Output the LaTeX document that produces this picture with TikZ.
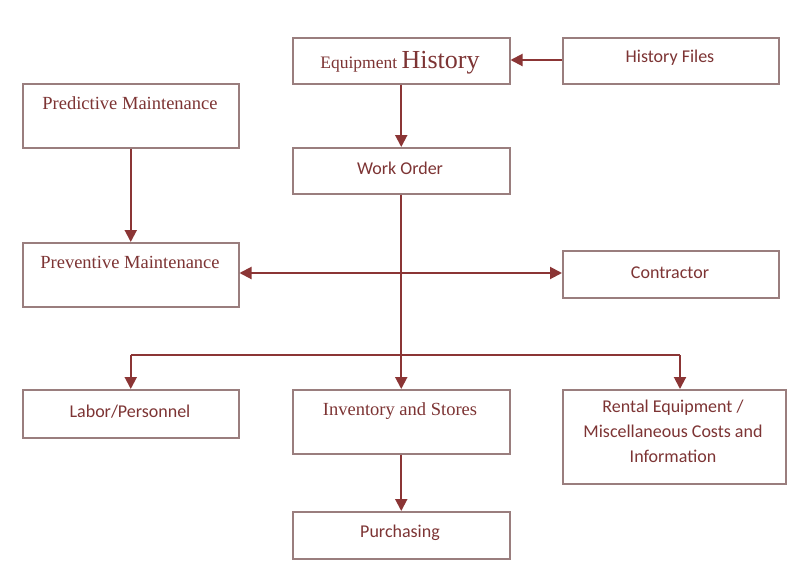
\documentclass[tikz,border=0pt]{standalone}
\usepackage{fontspec}
\setmainfont{Liberation Serif}
\newfontfamily\sansf{Carlito}
\usetikzlibrary{arrows.meta}
\definecolor{flowline}{HTML}{8B3535}
\definecolor{boxedge}{HTML}{9A7E7E}
\definecolor{labeltext}{HTML}{7D3434}
\tikzset{
  box/.style={draw=boxedge, line width=1.5pt, anchor=north west, inner sep=0pt},
  sanslabel/.style={text=labeltext, font=\sansf\fontsize{18}{25}\selectfont, align=center, inner sep=0pt},
  seriflabel/.style={text=labeltext, font=\fontsize{18.5}{22}\selectfont, inner sep=0pt},
  flow/.style={draw=flowline, line width=2pt},
  arr/.style={flow, -{Triangle[length=12pt,width=12pt]}},
  darr/.style={flow, {Triangle[length=12pt,width=12pt]}-{Triangle[length=12pt,width=12pt]}}
}
\begin{document}
\begin{tikzpicture}[x=1pt,y=-1pt]
\useasboundingbox[fill=white] (0,0) rectangle (790,565);

% boxes
\node[box, minimum width=217pt, minimum height=46pt] (eh)   at (292,37)  {};
\node[box, minimum width=216pt, minimum height=46pt] (hf)   at (562,37)  {};
\node[box, minimum width=216pt, minimum height=64pt] (pred) at (22,83)   {};
\node[box, minimum width=217pt, minimum height=46pt] (wo)   at (292,147) {};
\node[box, minimum width=216pt, minimum height=64pt] (prev) at (22,242)  {};
\node[box, minimum width=216pt, minimum height=47pt] (con)  at (562,250) {};
\node[box, minimum width=216pt, minimum height=48pt] (lab)  at (22,389)  {};
\node[box, minimum width=217pt, minimum height=64pt] (inv)  at (292,389) {};
\node[box, minimum width=223pt, minimum height=94pt] (rent) at (562,389) {};
\node[box, minimum width=217pt, minimum height=47pt] (pur)  at (292,511) {};

% labels
\node[text=labeltext, inner sep=0pt, anchor=base] (ehT) at (400,68)
  {\fontsize{17.5}{20}\selectfont Equipment \fontsize{26}{28}\selectfont History};
\node[sanslabel] (hfT)   at (670,58)  {History Files};
\node[seriflabel] (predT) at (130,103) {Predictive Maintenance};
\node[sanslabel] (woT)   at (400,168) {Work Order};
\node[seriflabel] (prevT) at (130,262) {Preventive Maintenance};
\node[sanslabel] (conT)  at (670,273) {Contractor};
\node[sanslabel] (labT)  at (130,412) {Labor/Personnel};
\node[seriflabel] (invT)  at (400,411) {Inventory and Stores};
\node[sanslabel, anchor=north] (rentT) at (673,400)
  {Rental Equipment /\\Miscellaneous Costs and\\Information};
\node[sanslabel] (purT)  at (400,533) {Purchasing};

% connectors
\coordinate (split) at (wo.south |- 0,355);
\coordinate (cross) at (wo.south |- 0,273);
\coordinate (rsplit) at (680,355);
\draw[arr] (hf.west |- 0,60) -- (eh.east |- 0,60);
\draw[arr] (eh.south) -- (wo.north);
\draw[arr] (pred.south) -- (prev.north);
\draw[flow] (wo.south) -- (split);
\draw[darr] (prev.east |- cross) -- (con.west |- cross);
\draw[arr] (split) -- (inv.north);
\draw[flow] (lab.north |- split) -- (rsplit);
\draw[arr] (lab.north |- split) -- (lab.north);
\draw[arr] (rsplit) -- (rent.north -| rsplit);
\draw[arr] (inv.south) -- (pur.north);
\end{tikzpicture}
\end{document}
